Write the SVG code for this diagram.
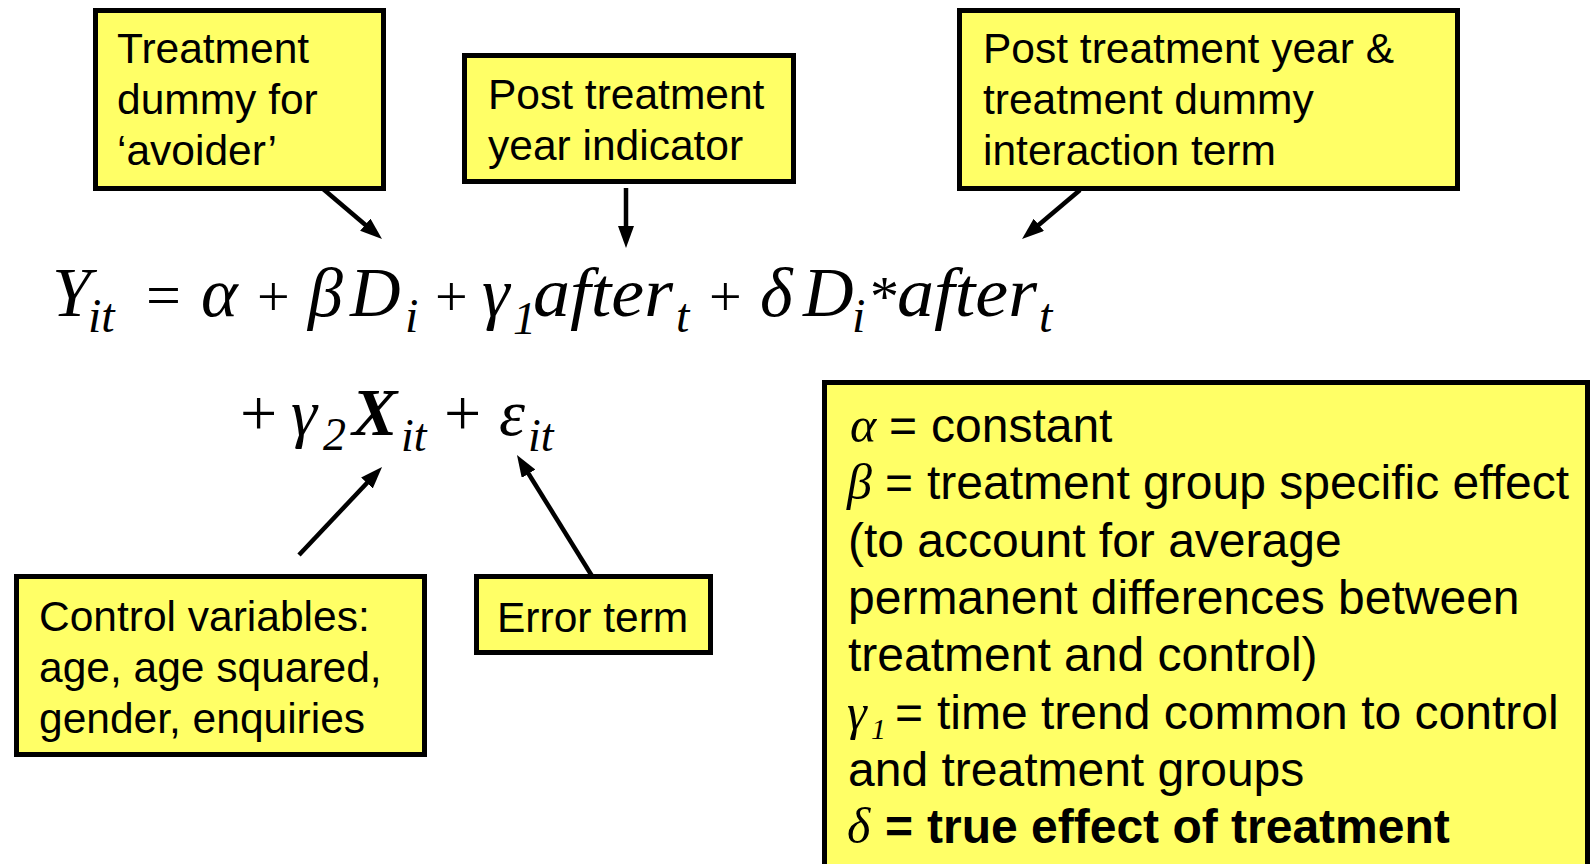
<svg xmlns="http://www.w3.org/2000/svg" width="1593" height="864" viewBox="0 0 1593 864">
<defs>
<style>
.box{fill:#FFFF66;stroke:#000;stroke-width:5}
.lbl{font-family:"Liberation Sans",Arial,sans-serif;font-size:42.5px;fill:#000}
.big{font-family:"Liberation Sans",Arial,sans-serif;font-size:48px;fill:#000}
.m{font-family:"Liberation Serif","Times New Roman",serif;font-style:italic;fill:#000}
.u{font-family:"Liberation Serif","Times New Roman",serif;fill:#000}
.arr{stroke:#000;stroke-width:4.5;fill:none;marker-end:url(#ah)}
</style>
<marker id="ah" viewBox="0 0 22 16" refX="10" refY="8" markerWidth="22" markerHeight="16" markerUnits="userSpaceOnUse" orient="auto">
<path d="M0,0 L22,8 L0,16 z" fill="#000"/>
</marker>
</defs>
<rect width="1593" height="864" fill="#fff"/>

<g id="box-treatment-dummy">
<rect class="box" x="95.5" y="10.5" width="288" height="178"/>
<text class="lbl" x="117" y="63">Treatment</text>
<text class="lbl" x="117" y="114">dummy for</text>
<text class="lbl" x="117" y="165">‘avoider’</text>
</g>

<g id="box-post-year">
<rect class="box" x="464.5" y="55.5" width="329" height="126"/>
<text class="lbl" x="488" y="109">Post treatment</text>
<text class="lbl" x="488" y="160">year indicator</text>
</g>

<g id="box-interaction">
<rect class="box" x="959.5" y="10.5" width="498" height="178"/>
<text class="lbl" x="983" y="63">Post treatment year &amp;</text>
<text class="lbl" x="983" y="114">treatment dummy</text>
<text class="lbl" x="983" y="165">interaction term</text>
</g>

<g id="box-control">
<rect class="box" x="16.5" y="576.5" width="408" height="178"/>
<text class="lbl" x="39" y="631">Control variables:</text>
<text class="lbl" x="39" y="682">age, age squared,</text>
<text class="lbl" x="39" y="733">gender, enquiries</text>
</g>

<g id="box-error">
<rect class="box" x="476.5" y="576.5" width="234" height="76"/>
<text class="lbl" x="497" y="632">Error term</text>
</g>

<g id="equation-line1">
<text class="m" x="52" y="316" font-size="70">Y</text>
<text class="m" x="88" y="332" font-size="48">it</text>
<text class="u" x="146" y="316" font-size="62">=</text>
<text class="m" x="201" y="316" font-size="70">α</text>
<text class="u" x="257" y="316" font-size="58">+</text>
<text class="m" x="308" y="316" font-size="70">β</text>
<text class="m" x="350" y="316" font-size="70">D</text>
<text class="m" x="405" y="332" font-size="48">i</text>
<text class="u" x="435" y="316" font-size="58">+</text>
<text class="m" x="482" y="316" font-size="70">γ</text>
<text class="m" x="513" y="334" font-size="46">1</text>
<text class="m" x="533" y="316" font-size="70" textLength="140" lengthAdjust="spacingAndGlyphs">after</text>
<text class="m" x="676" y="332" font-size="48">t</text>
<text class="u" x="709" y="316" font-size="58">+</text>
<text class="m" x="760" y="316" font-size="70">δ</text>
<text class="m" x="803" y="316" font-size="70">D</text>
<text class="m" x="852" y="332" font-size="48">i</text>
<text class="u" x="870" y="316" font-size="58">*</text>
<text class="m" x="897" y="316" font-size="70" textLength="140" lengthAdjust="spacingAndGlyphs">after</text>
<text class="m" x="1039" y="332" font-size="48">t</text>
</g>

<g id="equation-line2">
<text class="u" x="240" y="435" font-size="66">+</text>
<text class="m" x="291" y="435" font-size="66">γ</text>
<text class="m" x="323" y="450" font-size="46">2</text>
<text class="m" x="352" y="435" font-size="68" font-weight="bold">X</text>
<text class="m" x="401" y="451" font-size="46">it</text>
<text class="u" x="444" y="435" font-size="66">+</text>
<text class="m" x="499" y="435" font-size="66">ε</text>
<text class="m" x="528" y="451" font-size="46">it</text>
</g>

<g id="box-legend">
<rect class="box" x="824.5" y="382.5" width="763" height="500"/>
<text class="m" x="850" y="442" font-size="50">α</text>
<text class="big" x="889" y="442" font-size="52">=</text>
<text class="big" x="931" y="442">constant</text>
<text class="m" x="847" y="499" font-size="50">β</text>
<text class="big" x="885" y="499" font-size="52">=</text>
<text class="big" x="927" y="499">treatment group specific effect</text>
<text class="big" x="848" y="557">(to account for average</text>
<text class="big" x="848" y="614">permanent differences between</text>
<text class="big" x="848" y="671">treatment and control)</text>
<text class="m" x="847" y="729" font-size="50">γ</text>
<text class="m" x="871" y="739" font-size="30">1</text>
<text class="big" x="895" y="729" font-size="52">=</text>
<text class="big" x="937" y="729">time trend common to control</text>
<text class="big" x="848" y="786">and treatment groups</text>
<text class="m" x="847" y="843" font-size="50">δ</text>
<text class="big" x="885" y="843" font-size="52" font-weight="bold">=</text>
<text class="big" x="927" y="843" font-weight="bold">true effect of treatment</text>
</g>

<g id="connectors">
<line class="arr" x1="322" y1="188" x2="372.9" y2="231.2"/>
<line class="arr" x1="626" y1="188" x2="626" y2="236"/>
<line class="arr" x1="1080" y1="190" x2="1031.2" y2="231.3"/>
<line class="arr" x1="299" y1="555" x2="373.8" y2="475.7"/>
<line class="arr" x1="592" y1="576" x2="523.3" y2="465.2"/>
</g>
</svg>
